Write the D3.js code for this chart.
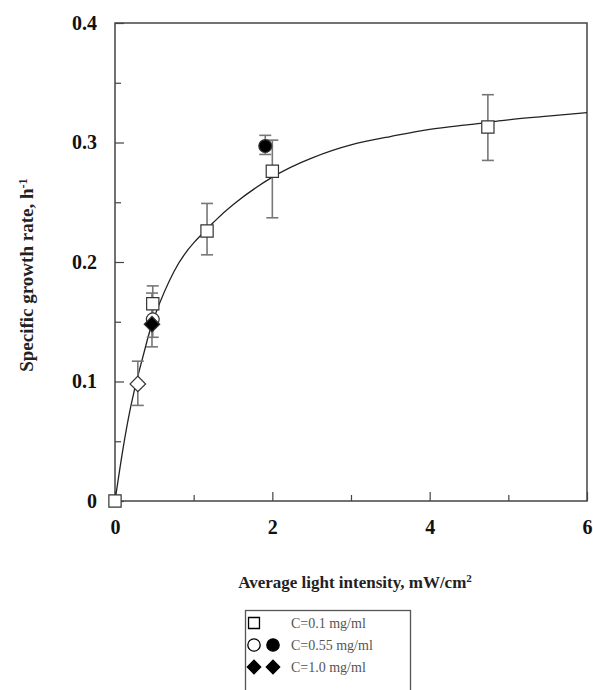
<!DOCTYPE html>
<html>
<head>
<meta charset="utf-8">
<script src="https://cdn.jsdelivr.net/npm/d3@7"></script>
<style>
  body { margin: 0; background: #fff; }
  svg { display: block; font-family: "Liberation Serif", "DejaVu Serif", serif; }
</style>
</head>
<body>
<div id="root"></div>
<script>
// C=0.1 mg/ml (open squares)
const sqI  = [0, 0.48, 1.17, 2.0, 4.74];
const sqMu = [0, 0.165, 0.226, 0.276, 0.313];
const sqLo = [null, 0.137, 0.206, 0.237, 0.285];
const sqHi = [null, 0.180, 0.249, 0.302, 0.340];

// C=0.55 mg/ml (open / filled circles)
const ciOpenI = [0.48], ciOpenMu = [0.152];
const ciFillI = [1.91], ciFillMu = [0.297], ciFillLo = [0.290], ciFillHi = [0.306];

// C=1.0 mg/ml (open / filled diamonds)
const diOpenI = [0.29], diOpenMu = [0.098], diOpenLo = [0.080], diOpenHi = [0.117];
const diFillI = [0.47], diFillMu = [0.148], diFillLo = [0.129], diFillHi = [0.174];

// fitted curve
const fitI  = [0, 0.1, 0.2, 0.3, 0.4, 0.5, 0.75, 1.0, 1.25, 1.5, 2.0, 2.5, 3.0, 3.5, 4.0, 4.5, 5.0, 5.5, 6.0];
const fitMu = [0, 0.043, 0.079, 0.107, 0.132, 0.154, 0.192, 0.216, 0.233, 0.248, 0.271, 0.287, 0.298, 0.305, 0.311, 0.315, 0.319, 0.322, 0.325];

const xMajor = [0, 2, 4, 6], xMinor = [1, 3, 5];
const yMajor = [0, 0.1, 0.2, 0.3, 0.4], yMinor = [0.05, 0.15, 0.25, 0.35];
const legendLabels = ["C=0.1 mg/ml", "C=0.55 mg/ml", "C=1.0 mg/ml"];

const W = 593, H = 690;
const svg = d3.select('#root').append('svg').attr('width', W).attr('height', H);

const x = d3.scaleLinear().domain([0, 6]).range([115, 587]);
const y = d3.scaleLinear().domain([0, 0.4]).range([501, 23]);

const axisColor = "#444";

// frame
svg.append("rect")
   .attr("x", x(0)).attr("y", y(0.4))
   .attr("width", x(6) - x(0)).attr("height", y(0) - y(0.4))
   .attr("fill", "none").attr("stroke", axisColor).attr("stroke-width", 1.5);

// axes with inward ticks
function styleAxis(g) {
  g.select(".domain").remove();
  g.selectAll(".tick line").attr("stroke", axisColor).attr("stroke-width", 1.2);
  g.selectAll(".tick text").attr("fill", "#111").attr("font-size", 20).attr("font-weight", "bold")
   .attr("font-family", "Liberation Serif, serif");
}

svg.append("g").attr("transform", `translate(0,${y(0)})`)
   .call(d3.axisBottom(x).tickValues(xMajor).tickFormat(d3.format("d")).tickSizeInner(-9).tickPadding(19))
   .call(styleAxis);
svg.append("g").attr("transform", `translate(0,${y(0)})`)
   .call(d3.axisBottom(x).tickValues(xMinor).tickFormat("").tickSizeInner(-6))
   .call(styleAxis);

svg.append("g").attr("transform", `translate(${x(0)},0)`)
   .call(d3.axisLeft(y).tickValues(yMajor).tickFormat(d => d === 0 ? "0" : d3.format(".1f")(d)).tickSizeInner(-9).tickPadding(18))
   .call(styleAxis);
svg.append("g").attr("transform", `translate(${x(0)},0)`)
   .call(d3.axisLeft(y).tickValues(yMinor).tickFormat("").tickSizeInner(-6))
   .call(styleAxis);

// axis titles (centred by measuring, superscript tspans)
function titleText(g, main, sup, size) {
  const t = g.append("text").attr("font-size", size).attr("font-weight", "bold").attr("fill", "#222");
  t.append("tspan").text(main);
  t.append("tspan").attr("dy", -6).attr("font-size", size * 0.65).text(sup);
  const len = t.node().getComputedTextLength();
  t.attr("x", -len / 2);
}
titleText(svg.append("g").attr("transform", "translate(355,588)"), "Average light intensity, mW/cm", "2", 17);
titleText(svg.append("g").attr("transform", "translate(33,275) rotate(-90)"), "Specific growth rate, h", "-1", 19);

// fitted curve
const line = d3.line().x((d, i) => x(fitI[i])).y((d, i) => y(fitMu[i])).curve(d3.curveNatural);
svg.append("path").datum(fitMu).attr("d", line)
   .attr("fill", "none").attr("stroke", "#222").attr("stroke-width", 1.3);

// error bars
const errColor = "#777";
function errorBars(I, lo, hi) {
  const g = svg.append("g").attr("stroke", errColor).attr("stroke-width", 1.6);
  I.forEach((v, i) => {
    if (lo[i] == null) return;
    g.append("line").attr("x1", x(v)).attr("x2", x(v)).attr("y1", y(lo[i])).attr("y2", y(hi[i]));
    [lo[i], hi[i]].forEach(e => g.append("line")
      .attr("x1", x(v) - 6).attr("x2", x(v) + 6).attr("y1", y(e)).attr("y2", y(e)));
  });
}
errorBars(sqI, sqLo, sqHi);
errorBars(ciFillI, ciFillLo, ciFillHi);
errorBars(diOpenI, diOpenLo, diOpenHi);
errorBars(diFillI, diFillLo, diFillHi);

// markers (diamond = square turned 45 degrees)
function symPath(type, size) {
  if (type === "circle") return d3.symbol().type(d3.symbolCircle).size(size)();
  return d3.symbol().type(d3.symbolSquare).size(size)();
}
function markers(I, Mu, type, fill) {
  svg.append("g").selectAll("path").data(Mu).join("path")
     .attr("transform", (d, i) => `translate(${x(I[i])},${y(d)})` + (type === "diamond" ? " rotate(45)" : ""))
     .attr("d", symPath(type, type === "circle" ? 130 : type === "diamond" ? 120 : 150))
     .attr("fill", fill).attr("stroke", "#333").attr("stroke-width", 1.2);
}
markers(ciOpenI, ciOpenMu, "circle", "#fff");
markers(sqI, sqMu, "square", "#fff");
markers(diOpenI, diOpenMu, "diamond", "#fff");
markers(diFillI, diFillMu, "diamond", "#000");
markers(ciFillI, ciFillMu, "circle", "#000");

// legend
const lg = svg.append("g");
lg.append("rect").attr("x", 245.5).attr("y", 610.5).attr("width", 165).attr("height", 90)
  .attr("fill", "#fff").attr("stroke", "#555").attr("stroke-width", 1.3);
const rowY = [623, 645, 667];
const legSym = [
  [["square", "#fff"]],
  [["circle", "#fff"], ["circle", "#000"]],
  [["diamond", "#000"], ["diamond", "#000"]]
];
legSym.forEach((row, r) => {
  row.forEach((s, k) => {
    lg.append("path")
      .attr("transform", `translate(${254 + k * 19},${rowY[r]})` + (s[0] === "diamond" ? " rotate(45)" : ""))
      .attr("d", symPath(s[0], s[0] === "diamond" ? 90 : 120))
      .attr("fill", s[1]).attr("stroke", "#000").attr("stroke-width", 1.3);
  });
  lg.append("text").attr("x", 291).attr("y", rowY[r] + 5).attr("font-size", 14).attr("fill", "#555")
    .text(legendLabels[r]);
});
</script>
</body>
</html>
